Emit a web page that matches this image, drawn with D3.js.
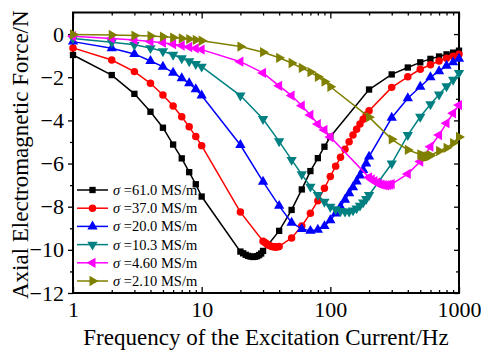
<!DOCTYPE html>
<html>
<head>
<meta charset="utf-8">
<script src="https://cdn.jsdelivr.net/npm/d3@7"></script>
<style>
  body { margin: 0; background: #fff; }
  svg { display: block; }
  text { font-family: "Liberation Serif", "Times New Roman", serif; fill: #000; }
</style>
</head>
<body>
<div id="chart"></div>
<script>
//data (frequency in Hz, axial force in N)
var freqBlack  = [1,2,3,4,5,6,7,8,9,10,20,21,22,23,24,25,26,27,28,29,30,40,50,60,70,80,90,100,200,300,400,500,600,700,800,900,1000];
var forceBlack = [-0.97,-1.9,-2.77,-3.6,-4.34,-5.12,-5.76,-6.4,-6.96,-7.53,-10.08,-10.16,-10.23,-10.28,-10.31,-10.33,-10.32,-10.29,-10.24,-10.17,-10.05,-9.12,-8.15,-7.2,-6.35,-5.75,-5.22,-4.76,-2.57,-1.87,-1.55,-1.31,-1.15,-1.04,-0.94,-0.86,-0.77];

var freqRed  = [1,2,3,4,5,6,7,8,9,10,20,30,31,32,33,34,35,36,37,38,39,40,50,60,70,80,90,100,110,120,130,140,150,160,170,180,190,200,300,400,500,600,700,800,900,1000];
var forceRed = [-0.64,-1.2,-1.74,-2.28,-2.82,-3.33,-3.83,-4.3,-4.75,-5.17,-8.25,-9.6,-9.66,-9.72,-9.77,-9.81,-9.84,-9.86,-9.87,-9.87,-9.86,-9.84,-9.45,-8.9,-8.3,-7.72,-7.15,-6.6,-6.12,-5.71,-5.34,-4.99,-4.68,-4.41,-4.17,-3.95,-3.75,-3.55,-2.47,-1.98,-1.63,-1.42,-1.25,-1.12,-1.03,-0.93];

var freqBlue  = [1,2,3,4,5,6,7,8,9,10,20,30,40,50,60,70,80,90,100,110,120,130,140,150,160,170,180,190,200,300,400,500,600,700,800,900,1000];
var forceBlue = [-0.35,-0.66,-0.92,-1.25,-1.51,-1.79,-2.05,-2.28,-2.56,-2.85,-5.14,-6.84,-7.96,-8.74,-9.03,-9.12,-9.07,-8.9,-8.63,-8.32,-8.0,-7.68,-7.38,-7.1,-6.83,-6.56,-6.3,-6.0,-5.68,-3.88,-2.97,-2.44,-2.0,-1.72,-1.47,-1.31,-1.14];

var freqTeal  = [1,2,3,4,5,6,7,8,9,10,20,30,40,50,60,70,80,90,100,110,120,130,140,150,160,170,180,190,200,300,400,500,600,700,800,900,1000];
var forceTeal = [-0.2,-0.38,-0.5,-0.65,-0.8,-0.96,-1.12,-1.26,-1.39,-1.51,-2.85,-3.94,-4.97,-5.83,-6.5,-7.07,-7.46,-7.77,-8.0,-8.12,-8.2,-8.23,-8.22,-8.17,-8.08,-7.95,-7.8,-7.64,-7.46,-6.0,-4.68,-3.83,-3.25,-2.8,-2.42,-2.12,-1.8];

var freqMagenta  = [1,2,3,4,5,6,7,8,9,10,20,30,40,50,60,70,80,90,100,200,210,220,230,240,250,260,270,280,290,300,400,500,600,700,800,900,1000];
var forceMagenta = [-0.1,-0.2,-0.27,-0.34,-0.4,-0.47,-0.53,-0.6,-0.66,-0.72,-1.28,-1.8,-2.4,-2.85,-3.32,-3.75,-4.17,-4.44,-4.77,-6.64,-6.74,-6.82,-6.89,-6.94,-6.98,-7.0,-7.01,-7.0,-6.98,-6.95,-6.48,-5.91,-5.22,-4.68,-4.13,-3.67,-3.29];

var freqOlive  = [1,2,3,4,5,6,7,8,9,10,20,30,40,50,60,70,80,90,100,200,300,400,500,510,520,530,540,550,560,570,580,590,600,700,800,900,1000];
var forceOlive = [-0.02,-0.04,-0.07,-0.09,-0.12,-0.16,-0.2,-0.23,-0.27,-0.31,-0.58,-0.84,-1.1,-1.34,-1.57,-1.76,-1.98,-2.2,-2.44,-3.85,-4.88,-5.37,-5.58,-5.61,-5.63,-5.65,-5.67,-5.68,-5.68,-5.67,-5.66,-5.64,-5.62,-5.42,-5.27,-5.05,-4.77];

var legendLabels = ["61.0","37.0","20.0","10.3","4.60","2.10"];
var xTicks = [1,10,100,1000];
var yTicks = [-12,-10,-8,-6,-4,-2,0];

var series = [
  {f: freqBlack,   v: forceBlack,   color: "#000000", sym: d3.symbolSquare,   rot: 0,   size: 40},
  {f: freqRed,     v: forceRed,     color: "#ff0000", sym: d3.symbolCircle,   rot: 0,   size: 44},
  {f: freqBlue,    v: forceBlue,    color: "#0000ff", sym: d3.symbolTriangle, rot: 0,   size: 46},
  {f: freqTeal,    v: forceTeal,    color: "#008080", sym: d3.symbolTriangle, rot: 180, size: 46},
  {f: freqMagenta, v: forceMagenta, color: "#ff00ff", sym: d3.symbolTriangle, rot: -90, size: 46},
  {f: freqOlive,   v: forceOlive,   color: "#808000", sym: d3.symbolTriangle, rot: 90,  size: 46}
];

//dimensions
var W = 481, H = 358;
var pLeft = 73, pRight = 459, pTop = 12.5, pBottom = 293;

var svg = d3.select("#chart").append("svg")
  .attr("width", W)
  .attr("height", H);

var x = d3.scaleLog().domain([1, 1000]).range([pLeft, pRight]);
var y = d3.scaleLinear().domain([-12, 1]).range([pBottom, pTop]);

//minor tick values
var xMinor = [];
[1, 10, 100].forEach(function(d) {
  for (var k = 2; k <= 9; k++) xMinor.push(d * k);
});
var yMinor = d3.range(-11, 1, 2);

function noDomain(g) { g.select(".domain").remove(); }

//bottom axis, ticks inward
svg.append("g")
  .attr("transform", "translate(0," + pBottom + ")")
  .call(d3.axisBottom(x).tickValues(xTicks).tickSize(-6).tickPadding(8.5).tickFormat(d3.format("d")))
  .call(noDomain);
svg.append("g")
  .attr("transform", "translate(0," + pBottom + ")")
  .call(d3.axisBottom(x).tickValues(xMinor).tickSize(-3).tickFormat(""))
  .call(noDomain);

//top axis
svg.append("g")
  .attr("transform", "translate(0," + pTop + ")")
  .call(d3.axisTop(x).tickValues(xTicks).tickSize(-6).tickFormat(""))
  .call(noDomain);
svg.append("g")
  .attr("transform", "translate(0," + pTop + ")")
  .call(d3.axisTop(x).tickValues(xMinor).tickSize(-3).tickFormat(""))
  .call(noDomain);

//left axis, ticks outward
svg.append("g")
  .attr("transform", "translate(" + pLeft + ",0)")
  .call(d3.axisLeft(y).tickValues(yTicks).tickSize(5).tickPadding(4))
  .call(noDomain);
svg.append("g")
  .attr("transform", "translate(" + pLeft + ",0)")
  .call(d3.axisLeft(y).tickValues(yMinor).tickSize(3).tickFormat(""))
  .call(noDomain);

//right axis, ticks inward
svg.append("g")
  .attr("transform", "translate(" + pRight + ",0)")
  .call(d3.axisRight(y).tickValues(yTicks).tickSize(-5).tickFormat(""))
  .call(noDomain);
svg.append("g")
  .attr("transform", "translate(" + pRight + ",0)")
  .call(d3.axisRight(y).tickValues(yMinor).tickSize(-3).tickFormat(""))
  .call(noDomain);

svg.selectAll(".tick line").attr("stroke", "#000").attr("stroke-width", 1.3);
svg.selectAll(".tick text")
  .style("font-family", '"Liberation Serif", "Times New Roman", serif')
  .style("font-size", "22px")
  .attr("fill", "#000");

//frame
svg.append("rect")
  .attr("x", pLeft)
  .attr("y", pTop)
  .attr("width", pRight - pLeft)
  .attr("height", pBottom - pTop)
  .attr("fill", "none")
  .attr("stroke", "#000")
  .attr("stroke-width", 2);

//axis titles
svg.append("text")
  .attr("x", (pLeft + pRight) / 2)
  .attr("y", 345)
  .attr("text-anchor", "middle")
  .style("font-size", "23px")
  .text("Frequency of the Excitation Current/Hz");

svg.append("text")
  .attr("transform", "translate(28," + ((pTop + pBottom) / 2 + 2) + ") rotate(-90)")
  .attr("text-anchor", "middle")
  .style("font-size", "23px")
  .text("Axial Electromagnetic Force/N");

//curves
var line = d3.line()
  .x(function(d) { return x(d[0]); })
  .y(function(d) { return y(d[1]); });

series.forEach(function(s) {
  var pts = s.f.map(function(f, i) { return [f, s.v[i]]; });
  var g = svg.append("g");
  g.append("path")
    .datum(pts)
    .attr("d", line)
    .attr("fill", "none")
    .attr("stroke", s.color)
    .attr("stroke-width", 1.5);
  g.selectAll("path.mark")
    .data(pts)
    .enter()
    .append("path")
    .attr("class", "mark")
    .attr("d", d3.symbol().type(s.sym).size(s.size))
    .attr("transform", function(d) {
      return "translate(" + x(d[0]) + "," + y(d[1]) + ") rotate(" + s.rot + ")";
    })
    .attr("fill", s.color);
});

//legend
var legend = svg.append("g");
series.forEach(function(s, i) {
  var ly = 190 + i * 18.2;
  legend.append("line")
    .attr("x1", 77).attr("x2", 108)
    .attr("y1", ly).attr("y2", ly)
    .attr("stroke", s.color)
    .attr("stroke-width", 1.5);
  legend.append("path")
    .attr("d", d3.symbol().type(s.sym).size(s.size))
    .attr("transform", "translate(92.5," + ly + ") rotate(" + s.rot + ")")
    .attr("fill", s.color);
  var t = legend.append("text")
    .attr("x", 113)
    .attr("y", ly + 5)
    .style("font-size", "14.5px");
  t.append("tspan").style("font-style", "italic").text("\u03c3");
  t.append("tspan").text(" =" + legendLabels[i] + " MS/m");
});
</script>
</body>
</html>
